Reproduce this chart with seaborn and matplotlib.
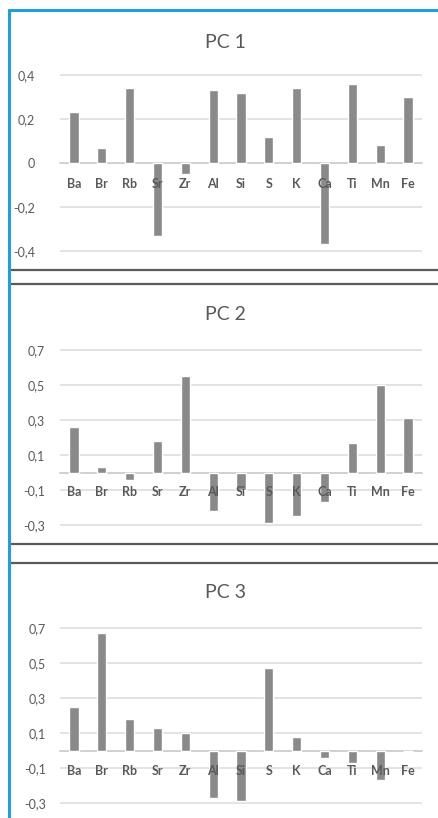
import matplotlib
matplotlib.use("Agg")
import matplotlib.pyplot as plt
from matplotlib.lines import Line2D
import seaborn as sns
import pandas as pd

# ---- data ----
elements = ["Ba", "Br", "Rb", "Sr", "Zr", "Al", "Si", "S", "K", "Ca", "Ti", "Mn", "Fe"]
pc1 = [0.23, 0.07, 0.34, -0.33, -0.05, 0.33, 0.32, 0.12, 0.34, -0.37, 0.36, 0.08, 0.30]
pc2 = [0.26, 0.03, -0.04, 0.18, 0.55, -0.22, -0.10, -0.29, -0.25, -0.17, 0.17, 0.50, 0.31]
pc3 = [0.25, 0.67, 0.18, 0.13, 0.10, -0.27, -0.29, 0.47, 0.08, -0.04, -0.07, -0.17, 0.0]
titles = ["PC 1", "PC 2", "PC 3"]
ticks1 = [-0.4, -0.2, 0.0, 0.2, 0.4]
labels1 = ["-0,4", "-0,2", "0", "0,2", "0,4"]
ticks23 = [-0.3, -0.1, 0.1, 0.3, 0.5, 0.7]
labels23 = ["-0,3", "-0,1", "0,1", "0,3", "0,5", "0,7"]

sns.set_theme(style="white")
plt.rcParams["font.family"] = ["Lato", "DejaVu Sans"]

W, H = 438, 818
fig = plt.figure(figsize=(W / 100, H / 100), dpi=100)
fig.patch.set_facecolor("white")

TXT = "#595959"
BAR = "#8a8a8a"
GRID = "#dedad6"


def px_rect(left, top, right, bottom):
    return [left / W, 1 - bottom / H, (right - left) / W, (bottom - top) / H]


panels = [
    dict(vals=pc1, title=titles[0], ticks=ticks1, labels=labels1, ylim=(-0.42, 0.42),
         top=75 - 0.02 * 220, bottom=251 + 0.02 * 220, title_y=43, ypad=18, xpad=11),
    dict(vals=pc2, title=titles[1], ticks=ticks23, labels=labels23, ylim=(-0.32, 0.72),
         top=350 - 0.02 * 175, bottom=525 + 0.02 * 175, title_y=315, ypad=11, xpad=9.5),
    dict(vals=pc3, title=titles[2], ticks=ticks23, labels=labels23, ylim=(-0.32, 0.72),
         top=628 - 0.02 * 175, bottom=803 + 0.02 * 175, title_y=593, ypad=10, xpad=10.5),
]

for p in panels:
    ax = fig.add_axes(px_rect(60, p["top"], 422, p["bottom"]))
    df = pd.DataFrame({"element": elements, "value": p["vals"]})
    sns.barplot(data=df, x="element", y="value", color=BAR, saturation=1,
                width=0.33, ax=ax, zorder=2)
    ax.set_xlim(-0.5, len(elements) - 0.5)
    ax.set_ylim(*p["ylim"])
    ax.grid(False)
    for t in p["ticks"]:
        if t != 0:
            ax.axhline(t, color=GRID, lw=1.1, zorder=0.5)
    ax.set_yticks(p["ticks"])
    ax.set_yticklabels(p["labels"])
    for s in ["top", "right", "left"]:
        ax.spines[s].set_visible(False)
    ax.spines["bottom"].set_position(("data", 0))
    ax.spines["bottom"].set_color("#c4c4c4")
    ax.spines["bottom"].set_linewidth(1.1)
    ax.spines["bottom"].set_zorder(1)
    ax.set_facecolor("none")
    ax.tick_params(axis="y", length=0, pad=p["ypad"], labelsize=9, labelcolor=TXT)
    ax.tick_params(axis="x", length=0, pad=p["xpad"], labelsize=9, labelcolor=TXT)
    for lab in ax.get_xticklabels():
        lab.set_fontweight("bold")
    ax.xaxis.set_zorder(3)
    ax.set_xlabel("")
    ax.set_ylabel("")
    fig.text(225 / W, 1 - p["title_y"] / H, p["title"], ha="center", va="center",
             fontsize=14, color=TXT)

# separator lines between panels
SEP = "#5a5a5a"
for y in [270, 284, 544, 563]:
    fig.add_artist(Line2D([10 / W, 1], [1 - y / H, 1 - y / H], color=SEP, lw=1.6,
                          transform=fig.transFigure))

# blue frame
BLUE = "#1fa0dc"
fig.add_artist(Line2D([9 / W, 1], [1 - 10 / H, 1 - 10 / H], color=BLUE, lw=2.2,
                      transform=fig.transFigure))
fig.add_artist(Line2D([9 / W, 9 / W], [0, 1 - 10 / H], color=BLUE, lw=2.2,
                      transform=fig.transFigure))

fig.savefig("out.png", dpi=100)
